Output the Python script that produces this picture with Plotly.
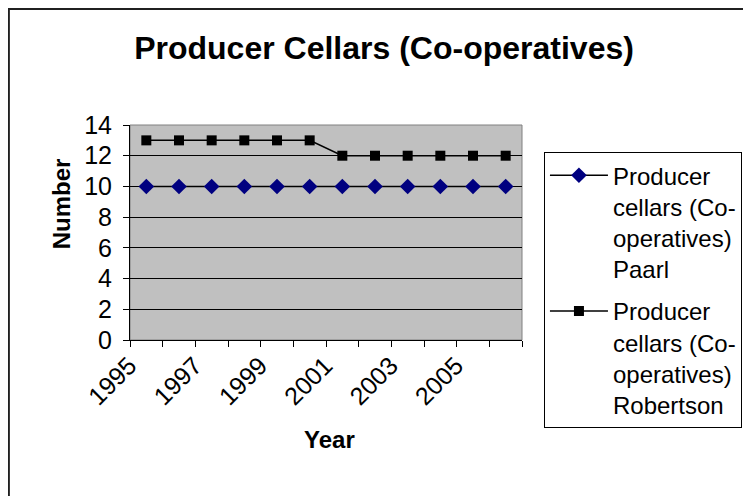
import plotly.graph_objects as go

years = [str(y) for y in range(1995, 2007)]
paarl = [10, 10, 10, 10, 10, 10, 10, 10, 10, 10, 10, 10]
robertson = [13, 13, 13, 13, 13, 13, 12, 12, 12, 12, 12, 12]
year_labels = [y if int(y) % 2 == 1 else "" for y in years]

font_family = "Liberation Sans, Arial, sans-serif"

fig = go.Figure()

fig.add_trace(
    go.Scatter(
        x=years,
        y=paarl,
        name="Producer<br>cellars (Co-<br>operatives)<br>Paarl",
        legendgroup="paarl",
        mode="lines+markers",
        line=dict(color="black", width=1.5),
        marker=dict(symbol="diamond", size=12, color="#000080"),
    )
)
fig.add_trace(
    go.Scatter(
        x=years,
        y=robertson,
        name="Producer<br>cellars (Co-<br>operatives)<br>Robertson",
        legendgroup="robertson",
        mode="lines+markers",
        line=dict(color="black", width=1.5),
        marker=dict(symbol="square", size=10, color="black"),
    )
)

fig.update_layout(
    width=751,
    height=496,
    paper_bgcolor="white",
    plot_bgcolor="#C0C0C0",
    font=dict(family=font_family, color="black", size=24),
    title=dict(
        text="<b>Producer Cellars (Co-operatives)</b>",
        x=0.5007,
        xanchor="center",
        y=0.919,
        yanchor="middle",
        font=dict(size=32),
    ),
    margin=dict(l=122, r=237, t=117, b=164),
    legend=dict(
        x=1.056,
        y=0.874,
        xanchor="left",
        yanchor="top",
        valign="top",
        bgcolor="white",
        bordercolor="black",
        borderwidth=1,
        font=dict(size=24),
        itemwidth=58,
        tracegroupgap=8,
        maxheight=340,
        entrywidth=210,
        entrywidthmode="pixels",
    ),
    showlegend=True,
    annotations=[
        dict(
            text="<b>Number</b>", xref="paper", yref="paper",
            x=-0.212, y=0.633, textangle=-90, showarrow=False,
            font=dict(size=24),
        ),
        dict(
            text="<b>Year</b>", xref="paper", yref="paper",
            x=0.510, y=-0.535, showarrow=False,
            font=dict(size=24),
        ),
    ],
    shapes=[
        dict(
            type="rect", xref="paper", yref="paper",
            x0=0, x1=1, y0=0, y1=1,
            line=dict(color="#808080", width=1),
            layer="below",
        ),
        dict(
            type="rect", xref="paper", yref="paper",
            x0=-0.309, x1=1.65, y0=-0.8, y1=1.54,
            line=dict(color="#202020", width=2),
        ),
    ],
)

fig.update_xaxes(
    type="category",
    range=[-0.5, 11.5],
    tickmode="array",
    tickvals=years,
    ticktext=year_labels,
    tickson="boundaries",
    ticks="outside",
    ticklen=6,
    tickcolor="black",
    tickangle=-45,
    ticklabelshift=-17,
    ticklabelstandoff=0,
    tickfont=dict(size=25),
    showgrid=False,
    showline=True,
    linecolor="black",
    linewidth=1,
)
fig.update_yaxes(
    range=[0, 14],
    dtick=2,
    ticks="outside",
    ticklen=6,
    tickcolor="black",
    ticklabelstandoff=6,
    tickfont=dict(size=25),
    showgrid=True,
    gridcolor="black",
    gridwidth=1,
    showline=True,
    linecolor="black",
    linewidth=1,
    zeroline=False,
)

fig.write_html("out.html")
